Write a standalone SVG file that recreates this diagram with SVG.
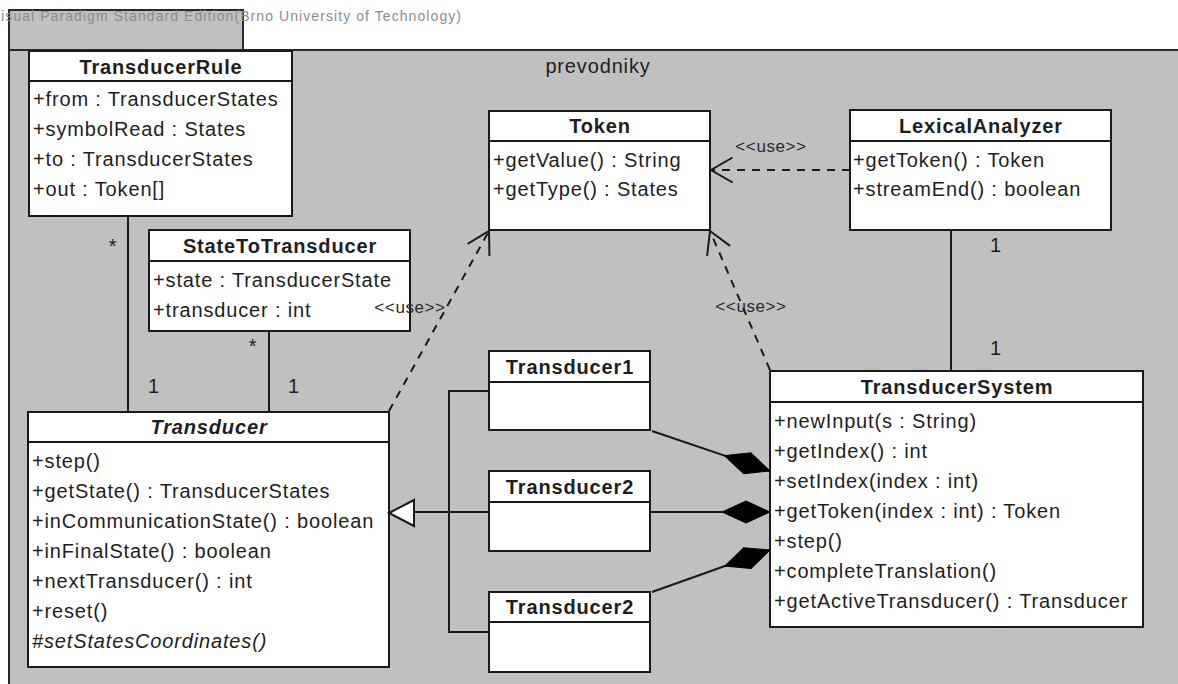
<svg xmlns="http://www.w3.org/2000/svg" width="1178" height="684" viewBox="0 0 1178 684">
<style>
  .t{font-family:"Liberation Sans",Arial,sans-serif;font-size:20px;letter-spacing:0.85px;fill:#1e1e1e}
  .h{font-weight:bold;text-anchor:middle}
  .i{font-style:italic}
  .m{text-anchor:middle}
  .lbl{font-size:17px;letter-spacing:0.6px;fill:#2a2a2a}
  .box{fill:#fff;stroke:#1a1a1a;stroke-width:2}
  .sep{stroke:#1a1a1a;stroke-width:2}
  .ln{fill:none;stroke:#1a1a1a;stroke-width:2}
  .dash{stroke-dasharray:8 7}
</style>
<defs>
  <marker id="open" markerUnits="userSpaceOnUse" orient="auto" refX="0" refY="0" markerWidth="30" markerHeight="30" viewBox="-26 -15 28 30" overflow="visible">
    <path d="M-21.6,-12.5 L0,0 L-21.6,12.5" fill="none" stroke="#1a1a1a" stroke-width="2" stroke-dasharray="none"/>
  </marker>
  <marker id="diamond" markerUnits="userSpaceOnUse" orient="auto" refX="0" refY="0" markerWidth="52" markerHeight="26" viewBox="-50 -13 52 26" overflow="visible">
    <path d="M0,0 L-24,-11 L-48,0 L-24,11 Z" fill="#000" stroke="#000" stroke-width="1"/>
  </marker>
</defs>

<!-- background and package frame -->
<rect x="0" y="0" width="1178" height="684" fill="#fff"/>
<g id="package">
  <rect x="9" y="10" width="234" height="40" fill="#c0c0c0" stroke="#2a2a2a" stroke-width="2"/>
  <rect x="9" y="50" width="1175" height="640" fill="#c0c0c0" stroke="#2a2a2a" stroke-width="2"/>
  <text x="1" y="21" font-family="Liberation Sans,Arial,sans-serif" font-size="14" fill="#8c8c8c" textLength="460" lengthAdjust="spacing">isual Paradigm Standard Edition(Brno University of Technology)</text>
  <text class="t m" x="598" y="73" fill="#333">prevodniky</text>
</g>

<g id="TransducerRule">
  <rect class="box" x="29" y="51" width="263" height="165"/>
  <line class="sep" x1="29" y1="81" x2="292" y2="81"/>
  <text class="t h" x="161" y="74">TransducerRule</text>
  <text class="t" x="33" y="106">+from : TransducerStates</text>
  <text class="t" x="33" y="136">+symbolRead : States</text>
  <text class="t" x="33" y="166">+to : TransducerStates</text>
  <text class="t" x="33" y="196">+out : Token[]</text>
</g>

<g id="Token">
  <rect class="box" x="489" y="111" width="221" height="119"/>
  <line class="sep" x1="489" y1="141" x2="710" y2="141"/>
  <text class="t h" x="600" y="133">Token</text>
  <text class="t" x="493" y="167">+getValue() : String</text>
  <text class="t" x="493" y="196">+getType() : States</text>
</g>

<g id="LexicalAnalyzer">
  <rect class="box" x="850" y="110" width="261" height="120"/>
  <line class="sep" x1="850" y1="141" x2="1111" y2="141"/>
  <text class="t h" x="981" y="133">LexicalAnalyzer</text>
  <text class="t" x="853" y="167">+getToken() : Token</text>
  <text class="t" x="853" y="196">+streamEnd() : boolean</text>
</g>

<g id="StateToTransducer">
  <rect class="box" x="149" y="230" width="261" height="101"/>
  <line class="sep" x1="149" y1="261" x2="410" y2="261"/>
  <text class="t h" x="280" y="253">StateToTransducer</text>
  <text class="t" x="153" y="287">+state : TransducerState</text>
  <text class="t" x="153" y="317">+transducer : int</text>
</g>

<g id="Transducer">
  <rect class="box" x="28" y="412" width="361" height="255"/>
  <line class="sep" x1="28" y1="442" x2="389" y2="442"/>
  <text class="t h i" x="209" y="434">Transducer</text>
  <text class="t" x="32" y="468">+step()</text>
  <text class="t" x="32" y="498">+getState() : TransducerStates</text>
  <text class="t" x="32" y="528">+inCommunicationState() : boolean</text>
  <text class="t" x="32" y="558">+inFinalState() : boolean</text>
  <text class="t" x="32" y="588">+nextTransducer() : int</text>
  <text class="t" x="32" y="618">+reset()</text>
  <text class="t i" x="32" y="648">#setStatesCoordinates()</text>
</g>

<g id="Transducer1">
  <rect class="box" x="489" y="351" width="161" height="79"/>
  <line class="sep" x1="489" y1="382" x2="650" y2="382"/>
  <text class="t h" x="570" y="374">Transducer1</text>
</g>

<g id="Transducer2a">
  <rect class="box" x="489" y="471" width="161" height="80"/>
  <line class="sep" x1="489" y1="502" x2="650" y2="502"/>
  <text class="t h" x="570" y="494">Transducer2</text>
</g>

<g id="Transducer2b">
  <rect class="box" x="489" y="592" width="161" height="80"/>
  <line class="sep" x1="489" y1="622" x2="650" y2="622"/>
  <text class="t h" x="570" y="614">Transducer2</text>
</g>

<g id="TransducerSystem">
  <rect class="box" x="770" y="371" width="373" height="256"/>
  <line class="sep" x1="770" y1="402" x2="1143" y2="402"/>
  <text class="t h" x="957" y="394">TransducerSystem</text>
  <text class="t" x="774" y="428">+newInput(s : String)</text>
  <text class="t" x="774" y="458">+getIndex() : int</text>
  <text class="t" x="774" y="488">+setIndex(index : int)</text>
  <text class="t" x="774" y="518">+getToken(index : int) : Token</text>
  <text class="t" x="774" y="548">+step()</text>
  <text class="t" x="774" y="578">+completeTranslation()</text>
  <text class="t" x="774" y="608">+getActiveTransducer() : Transducer</text>
</g>

<!-- connectors, drawn over the classes so their labels stay visible -->
<g id="connectors">
  <!-- associations -->
  <path class="ln" d="M128,216 V412"/>
  <path class="ln" d="M269,331 V412"/>
  <path class="ln" d="M951,230 V371"/>
  <!-- generalization tree -->
  <path class="ln" d="M489,391 H449 V632 H489"/>
  <path class="ln" d="M489,512 H414"/>
  <polygon points="389,513 414,500 414,526" fill="#fff" stroke="#1a1a1a" stroke-width="2"/>
  <!-- compositions -->
  <path class="ln" d="M652,431 L770,471" marker-end="url(#diamond)"/>
  <path class="ln" d="M650,512 L770,512" marker-end="url(#diamond)"/>
  <path class="ln" d="M652,592 L770,550" marker-end="url(#diamond)"/>
  <!-- dependencies -->
  <path class="ln dash" d="M850,170 L711,170" marker-end="url(#open)"/>
  <path class="ln dash" d="M389,411 L489,231" marker-end="url(#open)"/>
  <path class="ln dash" d="M770,370 L710,231" marker-end="url(#open)"/>
  <!-- labels -->
  <text class="t lbl m" x="771" y="152">&lt;&lt;use&gt;&gt;</text>
  <text class="t lbl m" x="410" y="313">&lt;&lt;use&gt;&gt;</text>
  <text class="t lbl m" x="751" y="312">&lt;&lt;use&gt;&gt;</text>
  <text class="t m" x="113" y="253">*</text>
  <text class="t m" x="253" y="353">*</text>
  <text class="t m" x="154" y="393">1</text>
  <text class="t m" x="294" y="393">1</text>
  <text class="t m" x="996" y="252">1</text>
  <text class="t m" x="996" y="355">1</text>
</g>
</svg>
